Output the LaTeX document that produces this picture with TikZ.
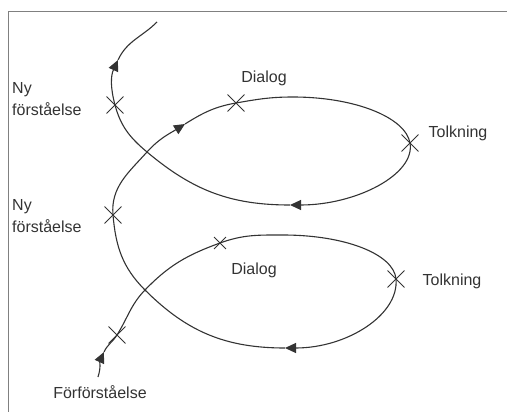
\documentclass[tikz,border=0pt]{standalone}
\usepackage{fontspec}
\setmainfont{Liberation Sans}
\usetikzlibrary{arrows.meta,shapes.misc}
\tikzset{font=\fontsize{16}{22}\selectfont}
\tikzset{every node/.append style={text=black!80}}
\tikzset{spiral/.style={line width=1.1pt,draw=black!80}}
\tikzset{tip/.style={-{Triangle[length=11pt,width=10pt]}}}
\tikzset{xmark/.style={draw=black!80,cross out,minimum size=16pt,inner sep=0pt,line width=0.9pt}}
\tikzset{lbl/.style={align=left,inner sep=0pt}}

\begin{document}
\begin{tikzpicture}[x=1pt,y=1pt]
\useasboundingbox (0,0) rectangle (507,-412);
\draw[gray,line width=1pt] (8,-412) -- (8,-12) -- (507,-12);

\coordinate (s) at (98,-377);
\coordinate (a1) at (104,-352);
\coordinate (p1) at (117,-335);
\coordinate (x1) at (145,-290);
\coordinate (p2) at (220,-243);
\coordinate (t1) at (283,-235);
\coordinate (p3) at (396,-279);
\coordinate (a2) at (285,-348);
\coordinate (p4) at (113,-215);
\coordinate (x2) at (147,-152);
\coordinate (a3) at (185,-124);
\coordinate (p5) at (236,-103);
\coordinate (t2) at (293,-97);
\coordinate (p6) at (410,-143);
\coordinate (a4) at (290,-205);
\coordinate (p7) at (115,-105);
\coordinate (a5) at (118,-60);
\coordinate (e) at (157,-22);

\draw[spiral,tip] (s) to[out=72,in=245] (a1);
\draw[spiral] (a1) to[out=65,in=238] (p1) to[out=58,in=226] (x1)
  to[out=46,in=200] (p2) to[out=20,in=180] (t1)
  to[out=0,in=95,out distance=62pt,in distance=25pt] (p3);
\draw[spiral,tip] (p3) to[out=275,in=0,out distance=36pt,in distance=62pt] (a2);
\draw[spiral] (a2) to[out=180,in=315] (x1) to[out=135,in=275] (p4)
  to[out=95,in=228] (x2);
\draw[spiral,tip] (x2) to[out=48,in=212] (a3);
\draw[spiral] (a3) to[out=32,in=190] (p5) to[out=10,in=180] (t2)
  to[out=0,in=100,out distance=62pt,in distance=26pt] (p6);
\draw[spiral,tip] (p6) to[out=280,in=0,out distance=32pt,in distance=66pt] (a4);
\draw[spiral] (a4) to[out=180,in=320] (x2) to[out=140,in=285] (p7);
\draw[spiral,tip] (p7) to[out=105,in=245] (a5);
\draw[spiral] (a5) to[out=65,in=225] (e);

\foreach \p in {p1,p3,p4,p5,p6,p7}
\node[xmark] (m\p) at (\p) {};
\node[xmark,minimum size=11pt] (mp2) at (p2) {};

\node[lbl,anchor=west] (ny1) at (12,-99) {Ny\\förståelse};
\node[lbl,anchor=west] (ny2) at (12,-216) {Ny\\förståelse};
\node (dia1) at (264,-78) {Dialog};
\node (tol1) at (458,-133) {Tolkning};
\node (dia2) at (254,-270) {Dialog};
\node (tol2) at (452,-281) {Tolkning};
\node (forf) at (100,-392) {Förförståelse};
\end{tikzpicture}
\end{document}
